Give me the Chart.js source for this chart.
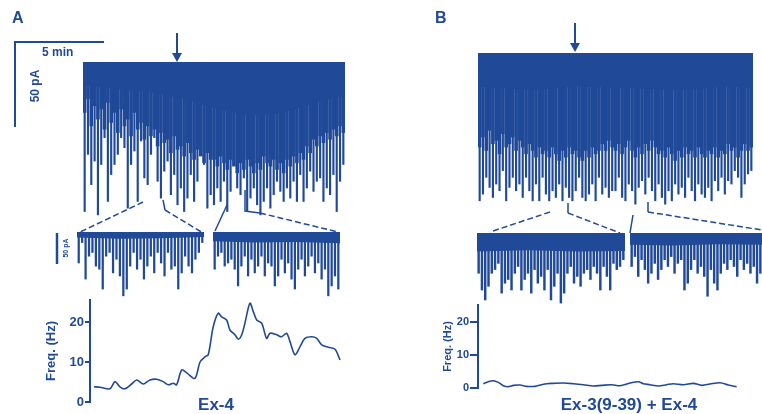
<!DOCTYPE html>
<html>
<head>
<meta charset="utf-8">
<script src="https://cdn.jsdelivr.net/npm/chart.js@4.4.0/dist/chart.umd.min.js"></script>
<style>
  body { margin: 0; background: #fff; width: 762px; height: 414px; overflow: hidden; position: relative;
         font-family: "Liberation Sans", Arial, sans-serif; }
  canvas, svg, .lbl { position: absolute; }
  .lbl { color: #204a98; font-weight: bold; white-space: nowrap; line-height: 1; }
  .rot { transform: translate(-50%, -50%) rotate(-90deg); }
</style>
</head>
<body>
<canvas id="trA" style="left:83px;top:62px" width="262" height="160"></canvas>
<canvas id="trB" style="left:478px;top:53px" width="275" height="160"></canvas>
<canvas id="zA1" style="left:77px;top:232px" width="127" height="72"></canvas>
<canvas id="zA2" style="left:213px;top:232px" width="127" height="72"></canvas>
<canvas id="zB1" style="left:477px;top:233px" width="148" height="80"></canvas>
<canvas id="zB2" style="left:630px;top:233px" width="132" height="80"></canvas>
<canvas id="frA" style="left:44px;top:290px" width="306" height="122"></canvas>
<canvas id="frB" style="left:441px;top:295px" width="309" height="103"></canvas>

<svg width="762" height="414" style="left:0;top:0" stroke="#204a98" fill="none">
  <!-- scale bar 5 min / 50 pA -->
  <polyline points="104,42 15,42 15,127" stroke-width="2"/>
  <!-- arrows -->
  <line x1="177" y1="33" x2="177" y2="55" stroke-width="2"/>
  <polygon points="172,53 182,53 177,62" fill="#204a98" stroke="none"/>
  <line x1="575" y1="23" x2="575" y2="45" stroke-width="2"/>
  <polygon points="570,43 580,43 575,52" fill="#204a98" stroke="none"/>
  <!-- small scale bar -->
  <line x1="57" y1="233" x2="57" y2="264" stroke-width="2.5"/>
  <!-- connectors A -->
  <line x1="143" y1="202" x2="78" y2="233" stroke-width="1.5" stroke-dasharray="6,3"/>
  <polyline points="163,200 165,210" stroke-width="1.5"/>
  <line x1="165" y1="210" x2="203" y2="233" stroke-width="1.5" stroke-dasharray="6,3"/>
  <line x1="227" y1="205" x2="215" y2="231" stroke-width="1.5"/>
  <polyline points="245,190 245,211 260,213" stroke-width="1.5"/>
  <line x1="260" y1="213" x2="338" y2="232" stroke-width="1.5" stroke-dasharray="6,3"/>
  <!-- connectors B -->
  <line x1="550" y1="212" x2="490" y2="232" stroke-width="1.5" stroke-dasharray="6,3"/>
  <line x1="568" y1="203" x2="568" y2="213" stroke-width="1.5"/>
  <line x1="568" y1="213" x2="620" y2="233" stroke-width="1.5" stroke-dasharray="6,3"/>
  <line x1="633" y1="215" x2="630" y2="233" stroke-width="1.5"/>
  <line x1="648" y1="202" x2="648" y2="212" stroke-width="1.5"/>
  <line x1="648" y1="212" x2="762" y2="230" stroke-width="1.5" stroke-dasharray="6,3"/>
</svg>

<div class="lbl" style="left:12px;top:10px;font-size:16px">A</div>
<div class="lbl" style="left:435px;top:10px;font-size:16px">B</div>
<div class="lbl" style="left:42px;top:46px;font-size:12px">5 min</div>
<div class="lbl rot" style="left:35px;top:86px;font-size:12px">50 pA</div>
<div class="lbl rot" style="left:65px;top:248px;font-size:7px">50 pA</div>
<div class="lbl" style="left:216px;top:404px;font-size:17px;transform:translate(-50%,-50%)">Ex-4</div>
<div class="lbl" style="left:629px;top:404px;font-size:17px;transform:translate(-50%,-50%)">Ex-3(9-39) + Ex-4</div>

<script>
const BLUE = '#204a98';

// A: whole recording, peak of downward events per bin (pA)
const spikesA = [-89,-55,-73,-59,-91,-61,-45,-83,-67,-61,-55,-45,-51,-87,-61,-53,-83,-47,-69,-73,
  -55,-45,-71,-81,-65,-59,-79,-67,-85,-75,-89,-81,-67,-83,-71,-55,-61,-87,-79,
  -85,-75,-83,-71,-89,-77,-61,-75,-79,-69,-89,-81,-75,-85,-91,-83,-75,-87,-79,-71,-77,
  -83,-75,-81,-71,-83,-67,-83,-75,-65,-77,-71,-69,-83,-75,-79,-67,-89,-71,-61];
// A: depth of the dense event cloud per bin (pA)
const denseA = [-30,-22,-38,-26,-34,-28,-40,-24,-36,-30,-42,-28,-38,-34,-44,-30,-40,-36,-46,-38,
  -44,-40,-50,-42,-48,-46,-54,-44,-52,-50,-56,-48,-54,-58,-52,-56,-60,-54,-58,
  -58,-62,-56,-60,-64,-58,-62,-66,-60,-64,-58,-62,-66,-60,-64,-56,-60,-62,-58,-64,
  -60,-66,-58,-62,-56,-60,-54,-58,-50,-54,-46,-50,-44,-48,-42,-46,-40,-44,-38,-42];
// A: solid noise band lower edge (bin, pA)
const bandA_bin = [-0.5,10,20,30,40,50,60,70,78.5];
const bandA_pA  = [-14,-16,-18,-22,-28,-32,-30,-24,-20];

// B: whole recording
const spikesB = [-88,-84,-74,-80,-86,-78,-82,-70,-88,-80,-74,-82,-78,-86,-74,-82,-88,-78,-88,-74,
  -84,-88,-82,-86,-78,-88,-80,-86,-88,-82,-74,-86,-88,-84,-78,-88,-74,-84,-80,-86,-82,
  -82,-74,-86,-88,-78,-82,-90,-80,-76,-84,-74,-82,-88,-78,-86,-90,-82,-88,-78,-84,-80,
  -86,-74,-82,-88,-78,-84,-86,-80,-88,-76,-82,-74,-84,-76,-78,-70,-74,-86,-78,-72,-70];
const denseB = [-56,-50,-58,-46,-54,-52,-60,-48,-56,-54,-50,-58,-52,-56,-60,-54,-58,-62,-56,-60,
  -58,-62,-56,-60,-64,-58,-62,-56,-60,-58,-62,-64,-58,-62,-56,-60,-58,-54,-58,-52,-56,
  -58,-54,-60,-56,-52,-58,-62,-56,-60,-54,-58,-52,-56,-60,-58,-62,-56,-60,-64,-58,-62,
  -56,-60,-58,-62,-56,-60,-62,-58,-60,-56,-62,-58,-60,-54,-58,-56,-62,-58,-54,-58,-56];
const bandB_bin = [-0.5,15,30,45,60,75,82.5];
const bandB_pA  = [-20,-22,-20,-21,-22,-20,-21];

// expanded segments
const zoomA1 = [-50,-17,-76,-39,-33,-55,-60,-92,-39,-33,-66,-44,-71,-103,-92,-55,-33,-60,-44,-76,
  -55,-39,-66,-33,-50,-71,-33,-60,-55,-92,-66,-39,-55,-66,-44,-33,-17];
const zoomA1_bin = [-0.5,12,24,36.5];
const zoomA1_pA  = [-9,-11,-10,-8];

const zoomA2 = [-60,-39,-33,-55,-50,-44,-60,-87,-55,-39,-71,-44,-66,-55,-39,-71,-50,-55,-87,-71,
  -44,-66,-50,-76,-92,-60,-44,-71,-55,-39,-66,-50,-76,-60,-103,-87,-71,-92];
const zoomA2_bin = [-0.5,12,24,37.5];
const zoomA2_pA  = [-15,-17,-16,-18];

const zoomB1 = [-65,-92,-108,-86,-65,-59,-49,-97,-81,-75,-92,-65,-54,-92,-75,-65,-97,-59,-81,-70,
  -92,-59,-108,-86,-65,-113,-97,-65,-54,-81,-70,-86,-65,-59,-75,-54,-65,-92,-54,-70,-92,-49,-59,-54,-43];
const zoomB1_bin = [-0.5,15,30,44.5];
const zoomB1_pA  = [-30,-28,-30,-29];

const zoomB2 = [-54,-38,-70,-43,-59,-81,-65,-49,-75,-59,-43,-54,-38,-65,-49,-43,-92,-81,-59,-43,
  -65,-54,-70,-102,-59,-81,-92,-65,-49,-59,-43,-54,-70,-43,-59,-49,-65,-54,-81,-65];
const zoomB2_bin = [-0.5,13,26,39.5];
const zoomB2_pA  = [-19,-20,-18,-19];

// event frequency (time in min, Hz)
const freqA_t  = [0,0.34,0.9,1.18,1.46,1.74,2.12,2.40,2.77,3.15,3.52,3.89,4.18,4.46,4.64,4.93,5.21,5.67,
  5.96,6.24,6.42,6.70,6.98,7.17,7.45,7.64,7.92,8.11,8.30,8.48,8.76,8.95,9.14,9.42,9.70,9.89,10.26,
  10.54,10.82,11.01,11.29,11.57,11.85,12.23,12.51,12.79,13.16,13.54,13.82];
const freqA_hz = [3.8,3.7,3.3,5.1,3.8,3.3,4.5,5.5,4.5,5.5,5.7,5.1,4.3,4.7,4.3,8,7.3,5.9,
  10,11.3,11.8,18.8,22.2,21.3,20.5,18,16.8,15.7,16.8,19.7,24.7,22.6,20.5,19.7,15.9,17.2,16.8,
  16.3,17.2,15.1,11.8,13.8,15.9,16.3,15.9,14.3,13.7,13.2,10.5];
const freqB_t  = [0,0.28,0.56,0.84,1.12,1.40,1.69,2.06,2.43,2.90,3.28,3.56,3.93,4.49,5.06,5.62,6.18,
  6.65,7.21,7.68,8.24,8.71,8.99,9.36,9.83,10.30,10.67,11.24,11.80,12.27,12.73,13.30,13.76,14.23];
const freqB_hz = [1.3,1.9,2.2,1.7,0.7,0.4,0.8,0.9,0.5,0.5,1.0,1.3,1.4,1.5,1.3,1.0,0.6,
  0.8,1.0,0.7,1.5,1.9,1.3,1.0,0.6,1.0,1.3,1.0,1.4,0.8,1.2,1.6,0.9,0.4];

const base = {
  responsive: false,
  animation: false,
  events: [],
  plugins: { legend: { display: false }, tooltip: { enabled: false } }
};

function makeTrace(id, spikes, dense, bandBin, bandPA, pxPerPA, spikeW) {
  const el = document.getElementById(id);
  const datasets = [
    { type: 'line', data: bandBin.map((x, i) => ({ x, y: bandPA[i] })), fill: 'end',
      backgroundColor: BLUE, borderWidth: 0, pointRadius: 0, tension: 0 },
    { type: 'bar', data: spikes.map((v, i) => ({ x: i, y: [0, v] })), backgroundColor: BLUE,
      barThickness: spikeW, grouped: false }
  ];
  if (dense) {
    datasets.push({ type: 'bar', data: dense.map((v, i) => ({ x: i, y: [0, v] })), backgroundColor: BLUE,
      barThickness: el.width / spikes.length - 0.35, grouped: false });
  }
  new Chart(el, {
    type: 'bar',
    data: { datasets },
    options: {
      ...base,
      datasets: { bar: { grouped: false } },
      layout: { padding: 0 },
      scales: {
        x: { type: 'linear', display: false, offset: false, min: -0.5, max: spikes.length - 0.5 },
        y: { display: false, min: -el.height / pxPerPA, max: 0 }
      }
    }
  });
}

makeTrace('trA', spikesA, denseA, bandA_bin, bandA_pA, 1.68, 1.5);
makeTrace('trB', spikesB, denseB, bandB_bin, bandB_pA, 1.68, 1.5);
makeTrace('zA1', zoomA1, null, zoomA1_bin, zoomA1_pA, 0.62, 1.6);
makeTrace('zA2', zoomA2, null, zoomA2_bin, zoomA2_pA, 0.62, 1.6);
makeTrace('zB1', zoomB1, null, zoomB1_bin, zoomB1_pA, 0.62, 1.8);
makeTrace('zB2', zoomB2, null, zoomB2_bin, zoomB2_pA, 0.62, 1.8);

function makeFreq(id, t, hz, o) {
  new Chart(document.getElementById(id), {
    type: 'line',
    data: { datasets: [{ data: t.map((x, i) => ({ x, y: hz[i] })), borderColor: BLUE, borderWidth: 1.6,
      pointRadius: 0, tension: 0.3, fill: false }] },
    options: {
      ...base,
      layout: { padding: { top: 10, bottom: 10, left: 0, right: 5 } },
      scales: {
        x: { type: 'linear', display: false, min: o.xMin, max: o.xMax },
        y: {
          min: 0, max: o.yMax,
          afterFit: s => { s.width = o.axisW; },
          border: { display: true, color: BLUE, width: 2 },
          grid: { drawOnChartArea: false, drawTicks: true, tickLength: o.tickLen, color: BLUE, lineWidth: 2 },
          ticks: { stepSize: 10, includeBounds: false, color: BLUE, padding: 1,
                   font: { family: 'Liberation Sans', weight: 'bold', size: o.fs } },
          title: { display: true, text: 'Freq. (Hz)', color: BLUE, padding: 0,
                   font: { family: 'Liberation Sans', weight: 'bold', size: o.fs } }
        }
      }
    }
  });
}

makeFreq('frA', freqA_t, freqA_hz, { xMin: -0.22, xMax: 14.1, yMax: 25.5, axisW: 46, tickLen: 5, fs: 13 });
makeFreq('frB', freqB_t, freqB_hz, { xMin: -0.3, xMax: 14.7, yMax: 25, axisW: 37, tickLen: 8, fs: 11 });
</script>
</body>
</html>
